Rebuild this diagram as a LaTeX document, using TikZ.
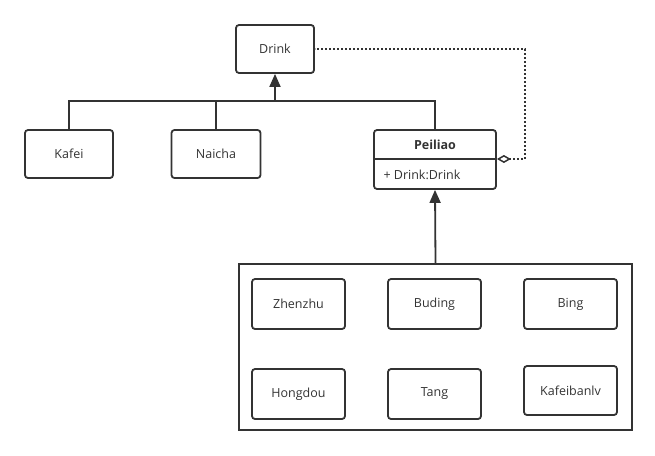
\documentclass[tikz,border=0pt]{standalone}
\usepackage{fontspec}
\setmainfont{Open Sans}
\usetikzlibrary{arrows.meta}
\definecolor{ln}{HTML}{333333}
\definecolor{tx}{HTML}{333333}
\begin{document}
\begin{tikzpicture}[x=1pt,y=-1pt,
  box/.style={draw=ln,line width=1.8pt,rounded corners=3pt,text=tx,font=\fontsize{12.5}{14}\selectfont},
  conn/.style={draw=ln,line width=1.8pt},
  inh/.style={conn,-{Triangle[length=13pt,width=11pt]}}]
\useasboundingbox (0,0) rectangle (655,455);
\node[box,minimum width=78pt,minimum height=48pt] (drink) at (275,49) {Drink};
\node[box,minimum width=88pt,minimum height=48pt] (kafei) at (69,154) {Kafei};
\node[box,minimum width=89pt,minimum height=48pt] (naicha) at (216,154) {Naicha};
% Peiliao class box
\node[box,minimum width=122pt,minimum height=59pt] (pei) at (435,159.5) {};
\draw[ln,line width=1.8pt] (pei.west |- 0,159) coordinate (dl) -- (pei.east |- 0,159) coordinate (dr);
\node[text=tx,font=\fontsize{12.5}{14}\selectfont\bfseries] (peit) at (435,145) {Peiliao};
\node[text=tx,font=\fontsize{12.5}{14}\selectfont,anchor=west] (peia) at (380,175) {+ Drink:Drink};
% container
\node[draw=ln,line width=1.8pt,minimum width=393pt,minimum height=166pt] (cont) at (435.5,347) {};
\node[box,minimum width=93pt,minimum height=50pt] (zhen) at (298.5,304) {Zhenzhu};
\node[box,minimum width=93pt,minimum height=50pt] (bud) at (434.5,304) {Buding};
\node[box,minimum width=93pt,minimum height=50pt] (bing) at (570.5,304) {Bing};
\node[box,minimum width=93pt,minimum height=50pt] (hong) at (298.5,394) {Hongdou};
\node[box,minimum width=93pt,minimum height=50pt] (tang) at (434.5,394) {Tang};
\node[box,minimum width=93pt,minimum height=49pt] (kfb) at (570.5,390.5) {Kafeibanlv};
% inheritance tree
\coordinate (bus) at (275,101);
\draw[inh] (bus) -- (drink.south);
\draw[conn] (kafei.north) |- (bus);
\draw[conn] (naicha.north) |- (bus);
\draw[conn] (pei.north) |- (bus);
% container to Peiliao
\draw[inh] (cont.north) -- (pei.south);
% aggregation dotted
\coordinate (dc) at (525,49);
\draw[ln,line width=1.8pt,dash pattern=on 2pt off 2pt,{Diamond[open,length=14pt,width=8pt,fill=white,line width=1.5pt]}-] (dr) -| (dc) -- (drink.east);
\end{tikzpicture}
\end{document}
